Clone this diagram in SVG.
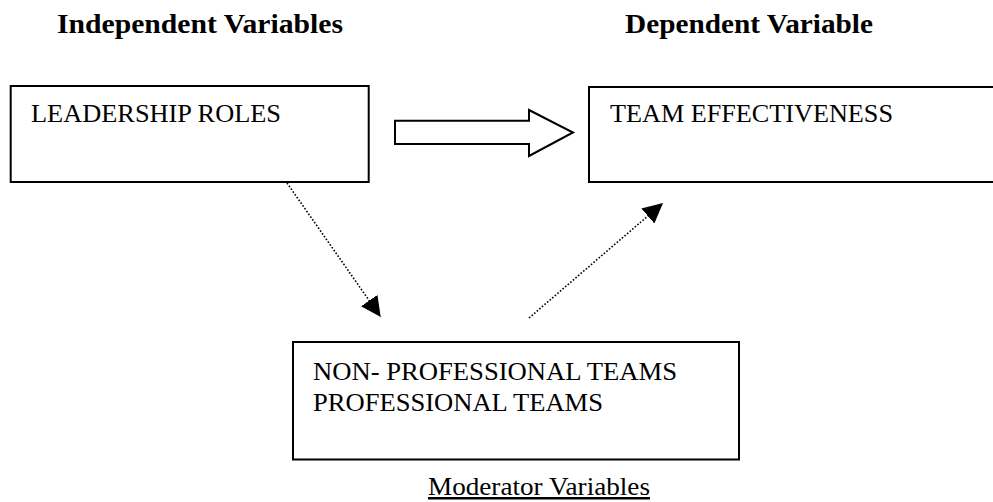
<svg xmlns="http://www.w3.org/2000/svg" width="993" height="502" viewBox="0 0 993 502">
<style>
.box{fill:#fff;stroke:#000;stroke-width:2}
.t{font-family:"Liberation Serif","Times New Roman",serif;font-size:25px;fill:#000}
.h{font-family:"Liberation Serif","Times New Roman",serif;font-size:27px;font-weight:bold;fill:#000}
.dot{stroke:#000;stroke-width:1.6;stroke-dasharray:1.6 1.8;fill:none}
</style>
<defs>
<marker id="ah" viewBox="0 0 10 10" refX="10" refY="5" markerWidth="20" markerHeight="20" markerUnits="userSpaceOnUse" orient="auto">
<path d="M0,0 L10,5 L0,10 Z" fill="#000"/>
</marker>
</defs>
<text class="h" x="57" y="33" textLength="286" lengthAdjust="spacingAndGlyphs">Independent Variables</text>
<text class="h" x="625" y="33" textLength="248" lengthAdjust="spacingAndGlyphs">Dependent Variable</text>
<g id="leadership">
<rect class="box" x="10.7" y="86" width="358" height="96"/>
<text class="t" x="31" y="122" textLength="250" lengthAdjust="spacingAndGlyphs">LEADERSHIP ROLES</text>
</g>
<g id="effectiveness">
<rect class="box" x="589" y="87" width="410" height="95"/>
<text class="t" x="610" y="122" textLength="283" lengthAdjust="spacingAndGlyphs">TEAM EFFECTIVENESS</text>
</g>
<g id="moderator">
<rect class="box" x="293" y="342" width="446" height="117.5"/>
<text class="t" x="313" y="379.5" textLength="364" lengthAdjust="spacingAndGlyphs">NON- PROFESSIONAL TEAMS</text>
<text class="t" x="313" y="411" textLength="290" lengthAdjust="spacingAndGlyphs">PROFESSIONAL TEAMS</text>
<text class="t" x="428" y="495" text-decoration="underline" textLength="222" lengthAdjust="spacingAndGlyphs">Moderator Variables</text>
</g>
<g id="connectors">
<path d="M395,120.7 H529 V110 L573,132.5 L529,156 V144 H395 Z" fill="#fff" stroke="#000" stroke-width="2"/>
<line class="dot" x1="287" y1="183" x2="380.7" y2="317" marker-end="url(#ah)"/>
<line class="dot" x1="529" y1="318" x2="663" y2="203" marker-end="url(#ah)"/>
</g>
</svg>
